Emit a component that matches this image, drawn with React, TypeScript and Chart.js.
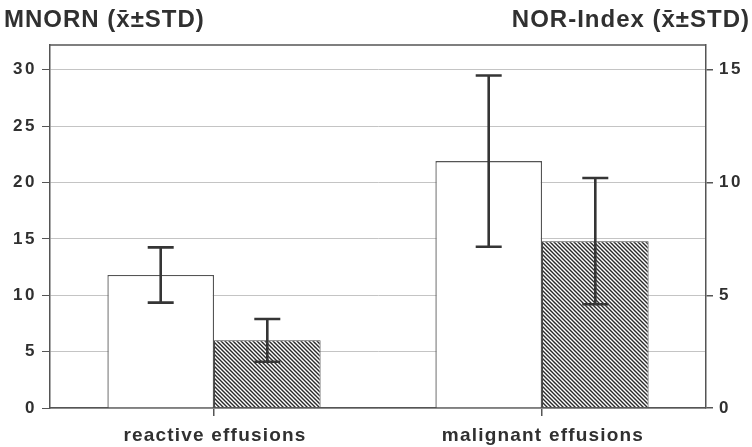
import React, { useEffect, useRef } from "react";
import { Chart, registerables } from "chart.js";

Chart.register(...registerables);

const categories = ["reactive effusions", "malignant effusions"];
const mnornMean = [11.8, 21.9];
const mnornSd = [2.45, 7.6];
const norIndexMean = [3.0, 7.4];
const norIndexSd = [0.95, 2.8];
const leftTicks = [0, 5, 10, 15, 20, 25, 30];
const rightTicks = [0, 5, 10, 15];
const leftTitle = "MNORN (x\u0304\u00b1STD)";
const rightTitle = "NOR-Index (x\u0304\u00b1STD)";

const INK = "#303030";
const FRAME = "#555555";
const FONT = "'Liberation Sans', Arial, sans-serif";

function makeHatch(): CanvasPattern | string {
  const c = document.createElement("canvas");
  c.width = 4;
  c.height = 4;
  const g = c.getContext("2d");
  if (!g) return "#888";
  g.fillStyle = "#ffffff";
  g.fillRect(0, 0, 4, 4);
  g.strokeStyle = "#2a2a2a";
  g.lineWidth = 1.4;
  g.beginPath();
  g.moveTo(-1, -1);
  g.lineTo(5, 5);
  g.moveTo(-1, 3);
  g.lineTo(1, 5);
  g.moveTo(3, -1);
  g.lineTo(5, 1);
  g.stroke();
  const p = g.createPattern(c, "repeat");
  return p || "#888";
}

const sds = [mnornSd, norIndexSd];

const errorBarPlugin = {
  id: "errorBars",
  afterDatasetsDraw(chart: any) {
    const ctx = chart.ctx;
    ctx.save();
    ctx.strokeStyle = "#353535";
    ctx.lineWidth = 2.6;
    chart.data.datasets.forEach((ds: any, di: number) => {
      const meta = chart.getDatasetMeta(di);
      const scale = chart.scales[ds.yAxisID];
      meta.data.forEach((bar: any, i: number) => {
        const m = ds.data[i];
        const s = sds[di][i];
        const yHi = scale.getPixelForValue(m + s);
        const yLo = scale.getPixelForValue(m - s);
        const x = bar.x;
        const cap = 13;
        ctx.beginPath();
        ctx.moveTo(x, yHi);
        ctx.lineTo(x, yLo);
        ctx.moveTo(x - cap, yHi);
        ctx.lineTo(x + cap, yHi);
        ctx.moveTo(x - cap, yLo);
        ctx.lineTo(x + cap, yLo);
        ctx.stroke();
      });
    });
    ctx.restore();
  },
};

const framePlugin = {
  id: "frameAndTitles",
  beforeDraw(chart: any) {
    (chart.ctx as any).letterSpacing = "2.5px";
  },
  afterDraw(chart: any) {
    const ctx = chart.ctx;
    const a = chart.chartArea;
    ctx.save();
    ctx.strokeStyle = FRAME;
    ctx.lineWidth = 1.5;
    ctx.beginPath();
    ctx.moveTo(a.left, a.top);
    ctx.lineTo(a.right, a.top);
    ctx.stroke();
    ctx.fillStyle = INK;
    // axis titles
    ctx.font = `bold 24px ${FONT}`;
    (ctx as any).letterSpacing = "1px";
    ctx.textBaseline = "alphabetic";
    ctx.textAlign = "left";
    ctx.fillText(leftTitle, 4, 27);
    ctx.textAlign = "right";
    ctx.fillText(rightTitle, 750, 27);
    // category labels
    const xs = chart.scales.x;
    ctx.font = `bold 19px ${FONT}`;
    (ctx as any).letterSpacing = "1.2px";
    ctx.textAlign = "center";
    categories.forEach((lab, i) => {
      ctx.fillText(lab, xs.getPixelForTick(i) + 1, 441);
    });
    ctx.restore();
    (ctx as any).letterSpacing = "0px";
  },
};

export default function App() {
  const ref = useRef<HTMLCanvasElement>(null);
  useEffect(() => {
    if (!ref.current) return;
    const hatch = makeHatch();
    const chart = new Chart(ref.current, {
      type: "bar",
      data: {
        labels: categories,
        datasets: [
          {
            label: "MNORN",
            data: mnornMean,
            yAxisID: "y",
            backgroundColor: "#ffffff",
            borderColor: FRAME,
            borderWidth: 1.3,
            categoryPercentage: 0.65,
            barPercentage: 1.0,
          } as any,
          {
            label: "NOR-Index",
            data: norIndexMean,
            yAxisID: "y1",
            backgroundColor: hatch,
            borderColor: "#444",
            borderWidth: 1,
            categoryPercentage: 0.65,
            barPercentage: 1.0,
          } as any,
        ],
      },
      options: {
        responsive: false,
        animation: false,
        events: [],
        layout: { padding: { top: 45, left: 0, right: 0, bottom: 0 } },
        plugins: {
          legend: { display: false },
          tooltip: { enabled: false },
          title: { display: false },
        },
        scales: {
          x: {
            offset: true,
            grid: {
              offset: false,
              drawOnChartArea: false,
              tickLength: 8,
              color: FRAME,
              lineWidth: 1.5,
            },
            border: { color: FRAME, width: 1.5 },
            ticks: {
              display: false,
            },
            afterFit(axis: any) {
              axis.height = 39;
            },
          },
          y: {
            position: "left",
            min: 0,
            max: 32.2,
            afterBuildTicks(axis: any) {
              axis.ticks = leftTicks.map((v) => ({ value: v }));
            },
            grid: {
              color: "#c4c4c4",
              lineWidth: 1,
              tickLength: 8,
              tickColor: FRAME,
            },
            border: { color: FRAME, width: 1.5 },
            ticks: {
              color: INK,
              font: { family: FONT, size: 17, weight: "bold" },
              padding: 5,
            },
            afterFit(axis: any) {
              axis.width = 50;
            },
          },
          y1: {
            position: "right",
            min: 0,
            max: 16.1,
            afterBuildTicks(axis: any) {
              axis.ticks = rightTicks.map((v) => ({ value: v }));
            },
            grid: {
              drawOnChartArea: false,
              tickLength: 7,
              color: FRAME,
              lineWidth: 1.5,
            },
            border: { color: FRAME, width: 1.5 },
            ticks: {
              color: INK,
              font: { family: FONT, size: 17, weight: "bold" },
              padding: 6,
            },
            afterFit(axis: any) {
              axis.width = 46;
            },
          },
        },
      } as any,
      plugins: [errorBarPlugin, framePlugin],
    });
    return () => chart.destroy();
  }, []);
  return (
    <div style={{ position: "fixed", left: 0, top: 0, width: 752, height: 447, background: "#fff" }}>
      <canvas ref={ref} width={752} height={447} style={{ display: "block" }} />
    </div>
  );
}
